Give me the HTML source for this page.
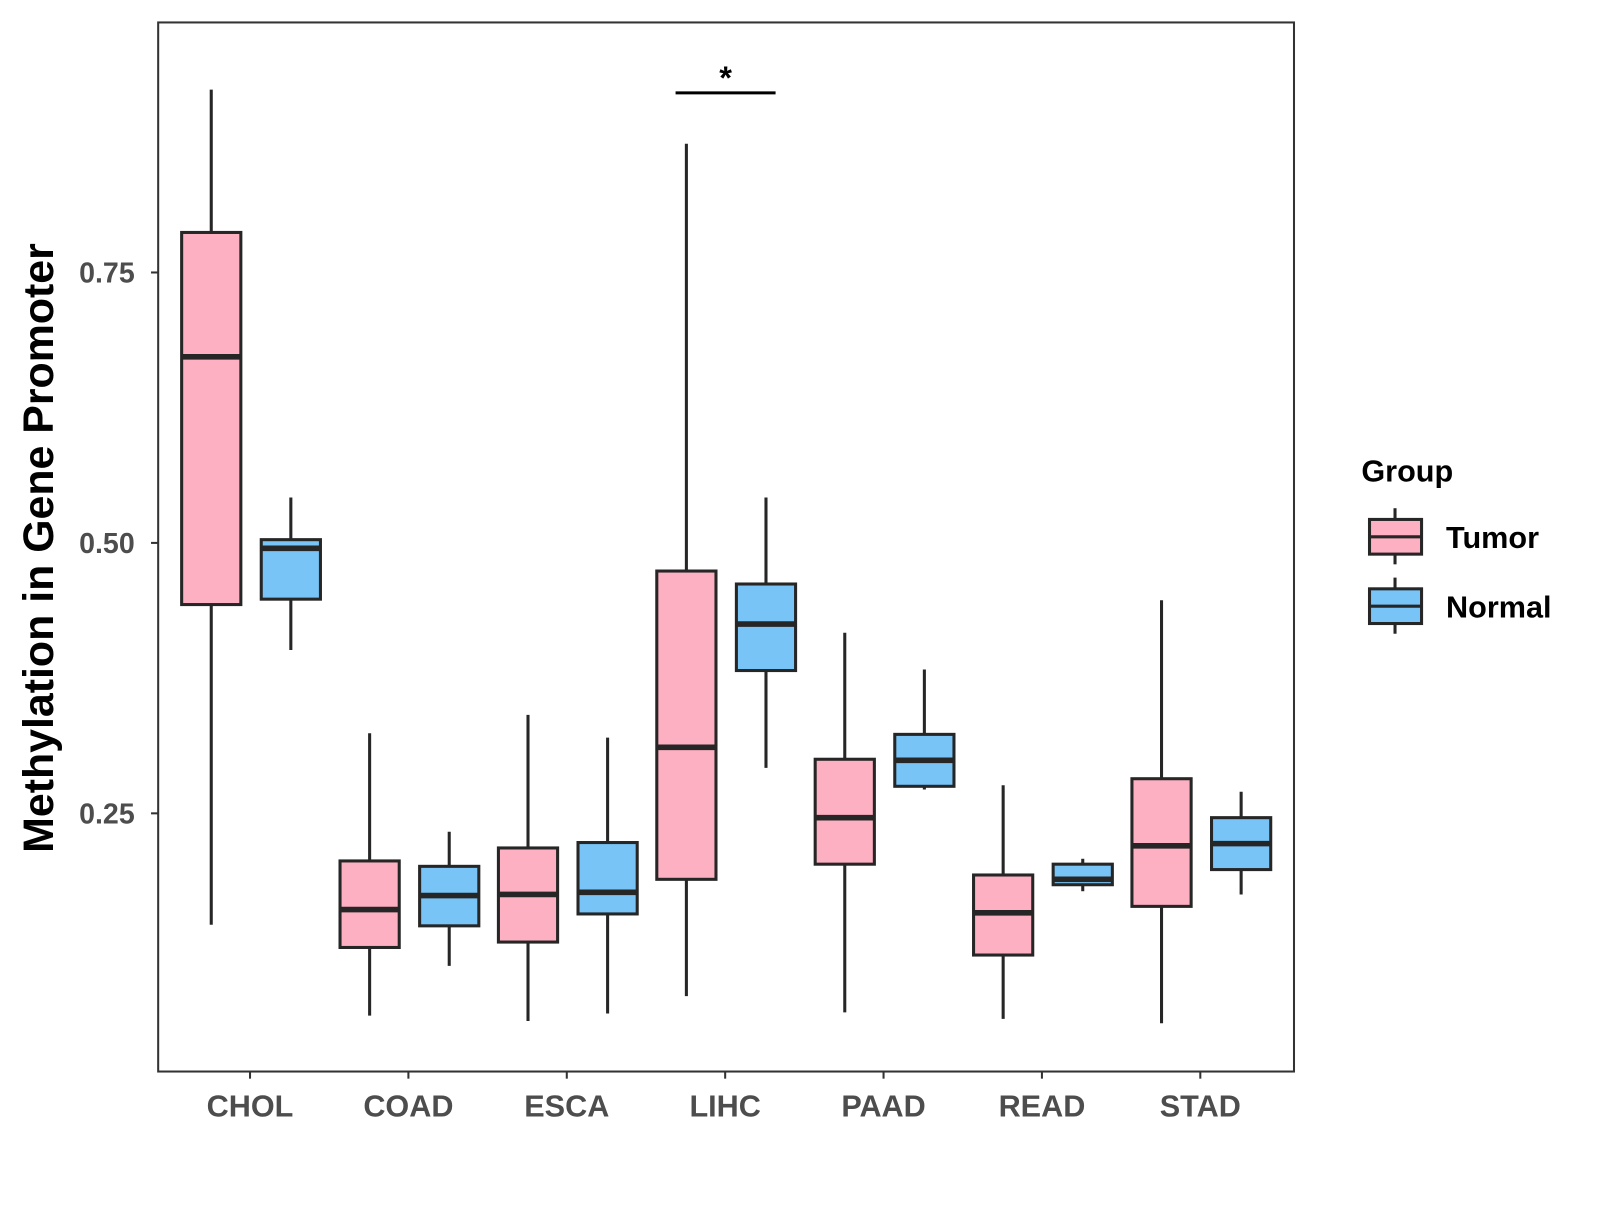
<!DOCTYPE html>
<html><head><meta charset="utf-8"><style>
body{margin:0;background:#fff}
svg text{font-family:"Liberation Sans",Arial,sans-serif;font-weight:bold}
</style></head><body>
<svg id="chart" width="1600" height="1200" viewBox="0 0 1600 1200" xmlns="http://www.w3.org/2000/svg">
<rect x="0" y="0" width="1600" height="1200" fill="#fff"/>
<g transform="scale(1.0205)">
<rect x="155" y="22" width="1113" height="1028" fill="none" stroke="#333" stroke-width="2"/>
<g id="yaxis"></g>
<g id="xaxis"></g>
<g id="boxes"></g>
<text transform="translate(52,537) rotate(-90)" text-anchor="middle" font-size="42" fill="#000">Methylation in Gene Promoter</text>
<g>
<line x1="662" y1="91" x2="760" y2="91" stroke="#000" stroke-width="3"/>
<text x="711" y="87" text-anchor="middle" font-size="32" fill="#000">*</text>
</g>
<g>
<text x="1334" y="472" font-size="30" fill="#000">Group</text>
<g>
<line x1="1367" y1="498" x2="1367" y2="553" stroke="#262626" stroke-width="3"/>
<rect x="1342" y="509" width="51" height="34" fill="#FDB0C1" stroke="#262626" stroke-width="3"/>
<line x1="1342" y1="526" x2="1393" y2="526" stroke="#262626" stroke-width="3"/>
<text x="1417" y="537" font-size="30" fill="#000">Tumor</text>
</g>
<g>
<line x1="1367" y1="566" x2="1367" y2="621" stroke="#262626" stroke-width="3"/>
<rect x="1342" y="577" width="51" height="34" fill="#79C4F7" stroke="#262626" stroke-width="3"/>
<line x1="1342" y1="594" x2="1393" y2="594" stroke="#262626" stroke-width="3"/>
<text x="1417" y="605" font-size="30" fill="#000">Normal</text>
</g>
</g>
</g>
</svg>
<script>
const categories = ["CHOL","COAD","ESCA","LIHC","PAAD","READ","STAD"];
// [max, q3, median, q1, min]
const tumorStats = [
 [0.919,0.787,0.672,0.443,0.147],
 [0.324,0.206,0.161,0.126,0.063],
 [0.341,0.218,0.175,0.131,0.058],
 [0.869,0.474,0.311,0.189,0.081],
 [0.417,0.300,0.246,0.203,0.066],
 [0.276,0.193,0.158,0.119,0.060],
 [0.447,0.282,0.220,0.164,0.056]];
const normalStats = [
 [0.542,0.503,0.495,0.448,0.401],
 [0.233,0.201,0.174,0.146,0.109],
 [0.320,0.223,0.177,0.157,0.065],
 [0.542,0.462,0.425,0.382,0.292],
 [0.383,0.323,0.299,0.275,0.272],
 [0.208,0.203,0.189,0.184,0.178],
 [0.270,0.246,0.222,0.198,0.175]];
const yTicks = [0.25,0.50,0.75];
const yTickLabels = ["0.25","0.50","0.75"];

const NS="http://www.w3.org/2000/svg";
function yScale(v){return 797-(v-0.25)*1060;}
function xScale(i){return 245+i*155.2;}
function mk(tag,attrs,parent){const e=document.createElementNS(NS,tag);for(const k in attrs)e.setAttribute(k,attrs[k]);parent.appendChild(e);return e;}
const ya=document.getElementById('yaxis'),xa=document.getElementById('xaxis'),bx=document.getElementById('boxes');
yTicks.forEach((t,i)=>{
 const y=yScale(t);
 const l=mk('line',{x1:148,x2:155,y1:y,y2:y,stroke:'#333','stroke-width':2},ya);
 
 
 const tx=mk('text',{x:132,y:y+10,'text-anchor':'end','font-size':28,fill:'#4d4d4d'},ya);
 tx.textContent=yTickLabels[i];
 
 
});
categories.forEach((c,i)=>{
 const x=xScale(i);
 const l=mk('line',{x1:x,x2:x,y1:1050,y2:1057,stroke:'#333','stroke-width':2},xa);
 
 
 const tx=mk('text',{x:x,y:1094,'text-anchor':'middle','font-size':30,fill:'#4d4d4d'},xa);
 tx.textContent=c;
 
 
});
function drawBox(s,cx,fill,name){
 const g=mk('g',{},bx);
 
 
 const w=58;
 mk('line',{x1:cx,x2:cx,y1:yScale(s[0]),y2:yScale(s[4]),stroke:'#262626','stroke-width':3},g);
 mk('rect',{x:cx-w/2,y:yScale(s[1]),width:w,height:yScale(s[3])-yScale(s[1]),fill:fill,stroke:'#262626','stroke-width':3},g);
 mk('line',{x1:cx-w/2,x2:cx+w/2,y1:yScale(s[2]),y2:yScale(s[2]),stroke:'#262626','stroke-width':5.5},g);
}
categories.forEach((c,i)=>{
 drawBox(tumorStats[i],xScale(i)-38,'#FDB0C1','box-tumor-'+c.toLowerCase());
 drawBox(normalStats[i],xScale(i)+40,'#79C4F7','box-normal-'+c.toLowerCase());
});
</script>
</body></html>
